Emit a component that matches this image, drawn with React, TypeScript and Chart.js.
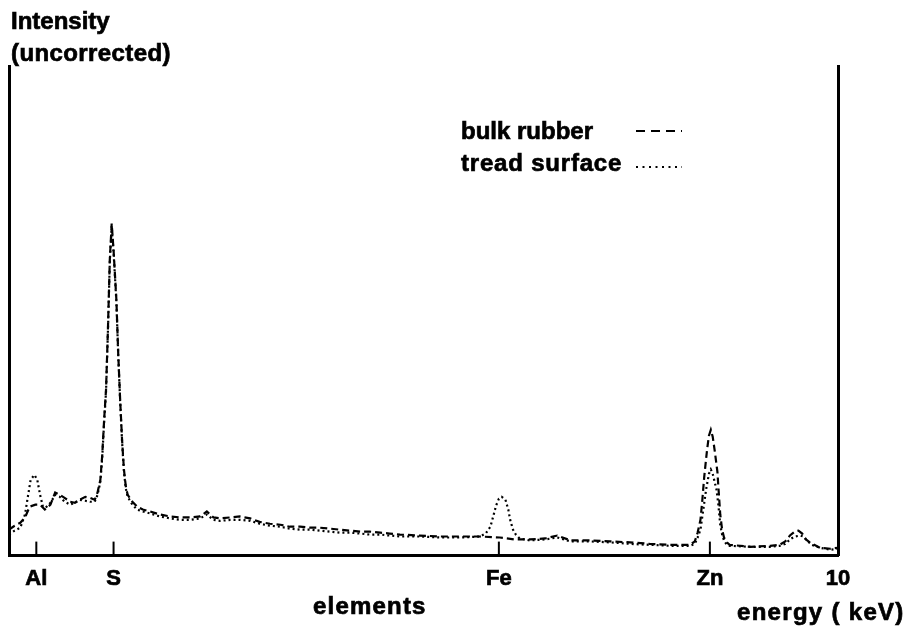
import { useEffect, useRef } from "react";
import { Chart, registerables } from "chart.js";

Chart.register(...registerables);

// X-ray energy (keV) and intensity (arbitrary, uncorrected)
const bulkEnergy = [
  1.2, 1.26, 1.32, 1.37, 1.42, 1.48, 1.53, 1.58, 1.64, 1.69, 1.74, 1.79, 1.85, 1.9, 1.95, 2.01, 2.06, 2.11,
  2.14, 2.17, 2.19, 2.21, 2.23, 2.25, 2.27, 2.29, 2.31, 2.34, 2.36, 2.38, 2.4, 2.42, 2.44, 2.46, 2.51, 2.56,
  2.62, 2.7, 2.8, 2.91, 3.02, 3.12, 3.23, 3.3, 3.37, 3.44, 3.55, 3.65, 3.76, 3.86, 3.97, 4.08, 4.18, 4.29,
  4.4, 4.5, 4.61, 4.71, 4.82, 4.93, 5.03, 5.14, 5.24, 5.35, 5.56, 5.78, 5.99, 6.2, 6.41, 6.57, 6.73, 6.89,
  7.02, 7.16, 7.37, 7.58, 7.79, 8.0, 8.22, 8.43, 8.48, 8.51, 8.54, 8.56, 8.58, 8.61, 8.63, 8.65, 8.67, 8.69,
  8.72, 8.73, 8.75, 8.77, 8.79, 8.82, 8.85, 9.07, 9.28, 9.38, 9.44, 9.49, 9.54, 9.58, 9.62, 9.66, 9.7, 9.81,
  9.92, 10.0,
];
const bulkIntensity = [
  5.3, 6.1, 6.7, 7.8, 10.0, 10.4, 10.4, 9.4, 10.4, 12.9, 12.4, 11.8, 11.0, 10.8, 11.4, 12.0, 11.8, 11.4,
  12.9, 15.5, 20.6, 27.8, 33.9, 46.1, 60.4, 67.8, 62.4, 52.2, 41.0, 31.8, 23.7, 17.6, 14.1, 12.4, 11.0, 10.0,
  9.4, 9.0, 8.4, 8.0, 7.8, 7.8, 8.0, 9.0, 7.8, 7.6, 7.8, 8.0, 7.6, 6.9, 6.5, 6.3, 5.9, 5.9,
  5.7, 5.7, 5.5, 5.3, 5.1, 4.9, 4.9, 4.7, 4.5, 4.3, 4.1, 3.9, 3.9, 3.9, 3.7, 3.3, 3.3, 3.5,
  4.1, 3.1, 3.1, 2.9, 2.7, 2.4, 2.2, 2.2, 2.9, 4.7, 7.3, 11.4, 16.1, 21.6, 24.5, 25.7, 24.3, 21.6,
  17.1, 14.1, 8.4, 5.3, 3.7, 2.7, 2.2, 1.8, 2.0, 2.2, 2.9, 4.1, 4.9, 5.1, 4.5, 3.3, 2.7, 1.6,
  1.4, 1.6,
];
const treadEnergy = [
  1.2, 1.26, 1.32, 1.37, 1.4, 1.43, 1.47, 1.5, 1.53, 1.56, 1.59, 1.64, 1.69, 1.74, 1.79, 1.85, 1.9, 1.95,
  2.01, 2.06, 2.11, 2.14, 2.17, 2.19, 2.21, 2.23, 2.25, 2.27, 2.29, 2.31, 2.34, 2.36, 2.38, 2.4, 2.42, 2.44,
  2.46, 2.51, 2.56, 2.62, 2.7, 2.8, 2.91, 3.02, 3.12, 3.23, 3.3, 3.37, 3.44, 3.55, 3.65, 3.76, 3.86, 3.97,
  4.08, 4.18, 4.29, 4.4, 4.5, 4.61, 4.71, 4.82, 4.93, 5.03, 5.14, 5.24, 5.35, 5.56, 5.78, 5.99, 6.2, 6.26,
  6.31, 6.34, 6.37, 6.4, 6.43, 6.47, 6.5, 6.52, 6.55, 6.58, 6.62, 6.73, 6.89, 7.02, 7.16, 7.37, 7.58, 7.79,
  8.0, 8.22, 8.43, 8.48, 8.51, 8.54, 8.57, 8.6, 8.63, 8.65, 8.67, 8.71, 8.73, 8.75, 8.77, 8.79, 8.82, 8.85,
  9.07, 9.28, 9.38, 9.44, 9.49, 9.54, 9.6, 9.63, 9.67, 9.72, 9.81, 9.92, 10.0,
];
const treadIntensity = [
  4.3, 5.1, 5.7, 8.4, 12.0, 15.5, 16.5, 15.5, 12.4, 10.0, 9.8, 10.8, 12.4, 12.0, 11.0, 10.4, 10.8, 11.4,
  11.2, 11.0, 11.0, 12.4, 15.1, 20.2, 27.3, 33.5, 45.7, 60.0, 67.3, 62.0, 51.8, 40.6, 31.4, 23.3, 17.1, 13.7,
  12.0, 10.4, 9.4, 9.0, 8.6, 8.0, 7.6, 7.3, 7.3, 7.6, 8.4, 7.3, 7.1, 7.3, 7.3, 7.1, 6.5, 6.1,
  5.9, 5.5, 5.3, 5.3, 5.1, 4.9, 4.7, 4.7, 4.5, 4.3, 4.3, 4.1, 3.9, 3.9, 3.7, 3.7, 3.9, 4.5,
  5.9, 8.0, 10.2, 11.6, 12.0, 11.4, 9.4, 7.3, 5.3, 4.3, 3.5, 3.1, 3.3, 3.7, 2.9, 2.9, 2.7, 2.4,
  2.2, 2.0, 2.0, 2.4, 3.7, 5.3, 9.4, 13.5, 16.7, 17.6, 16.7, 13.5, 10.4, 6.3, 4.3, 3.1, 2.2, 2.0,
  1.8, 1.8, 2.0, 2.4, 3.3, 3.9, 4.1, 3.9, 3.1, 2.2, 1.6, 1.2, 1.4,
];

const elementLabels = ["Al", "S", "Fe", "Zn", "10"];
const elementEnergies = [1.49, 2.31, 6.4, 8.64, 10];
const seriesNames = ["bulk rubber", "tread surface"];
const yAxisTitle = ["Intensity", "(uncorrected)"];
const xAxisCaption = "elements";
const xAxisUnit = "energy ( keV)";

const FONT_FAMILY = '"Liberation Sans", Arial, sans-serif';
const BULK_DASH = [7, 4];
const TREAD_DASH = [2, 3];

function drawText(ctx: any, text: string, x: number, y: number, size: number, spacing: number) {
  ctx.font = `bold ${size}px ${FONT_FAMILY}`;
  try {
    ctx.letterSpacing = `${spacing}px`;
  } catch (e) {
    /* ignore */
  }
  ctx.fillText(text, x, y);
  ctx.lineWidth = 0.7;
  ctx.strokeText(text, x, y);
  try {
    ctx.letterSpacing = "0px";
  } catch (e) {
    /* ignore */
  }
}

const annotations = {
  id: "annotations",
  afterDraw(chart: any) {
    const { ctx, chartArea, scales } = chart;
    ctx.save();
    ctx.fillStyle = "#000";
    ctx.strokeStyle = "#000";
    ctx.textAlign = "left";
    ctx.textBaseline = "alphabetic";
    drawText(ctx, yAxisTitle[0], 11, 29, 24, 0);
    drawText(ctx, yAxisTitle[1], 11, 61, 24, 0.4);
    drawText(ctx, seriesNames[0], 461, 139, 24, 0);
    drawText(ctx, seriesNames[1], 461, 171, 24, 0.8);
    drawText(ctx, xAxisCaption, 313, 614, 24, 1.2);
    drawText(ctx, xAxisUnit, 737, 620, 24, 1.3);

    // legend samples
    ctx.lineWidth = 2;
    ctx.setLineDash([9, 6]);
    ctx.beginPath();
    ctx.moveTo(636, 131);
    ctx.lineTo(682, 131);
    ctx.stroke();
    ctx.setLineDash([2, 4.5]);
    ctx.beginPath();
    ctx.moveTo(636, 167);
    ctx.lineTo(682, 167);
    ctx.stroke();

    // inward tick marks at element lines
    ctx.setLineDash([]);
    ctx.lineWidth = 2;
    const x = scales.x;
    elementEnergies.slice(0, 4).forEach((e) => {
      const px = x.getPixelForValue(e);
      ctx.beginPath();
      ctx.moveTo(px, chartArea.bottom);
      ctx.lineTo(px, chartArea.bottom - 14);
      ctx.stroke();
    });
    ctx.restore();
  },
};

export default function App() {
  const canvasRef = useRef<HTMLCanvasElement | null>(null);

  useEffect(() => {
    if (!canvasRef.current) return;
    const chart = new Chart(canvasRef.current, {
      type: "line",
      data: {
        datasets: [
          {
            label: seriesNames[0],
            data: bulkEnergy.map((e, i) => ({ x: e, y: bulkIntensity[i] })),
            borderColor: "#000",
            borderWidth: 2.2,
            borderDash: BULK_DASH,
            pointRadius: 0,
            tension: 0,
            fill: false,
          },
          {
            label: seriesNames[1],
            data: treadEnergy.map((e, i) => ({ x: e, y: treadIntensity[i] })),
            borderColor: "#000",
            borderWidth: 2.2,
            borderDash: TREAD_DASH,
            pointRadius: 0,
            tension: 0,
            fill: false,
          },
        ],
      },
      options: {
        responsive: false,
        animation: false,
        devicePixelRatio: 1,
        layout: { padding: { left: 9, right: 70, top: 66, bottom: 24 } },
        plugins: { legend: { display: false }, title: { display: false }, tooltip: { enabled: false } },
        scales: {
          x: {
            type: "linear",
            min: 1.2,
            max: 10,
            position: "bottom",
            grid: { display: false, drawTicks: false },
            border: { display: true, color: "#000", width: 3 },
            afterBuildTicks: (axis: any) => {
              axis.ticks = elementEnergies.map((v) => ({ value: v }));
            },
            ticks: {
              autoSkip: false,
              maxRotation: 0,
              padding: 10,
              color: "#000",
              textStrokeColor: "#000",
              textStrokeWidth: 0.7,
              font: { family: FONT_FAMILY, weight: "bold", size: 22 },
              callback: (v: any) => {
                const i = elementEnergies.indexOf(Number(v));
                return i >= 0 ? elementLabels[i] : "";
              },
            },
          },
          y: {
            type: "linear",
            min: 0,
            max: 100,
            position: "left",
            grid: { display: false, drawTicks: false },
            border: { display: true, color: "#000", width: 3 },
            ticks: { display: false },
          },
          yRight: {
            type: "linear",
            min: 0,
            max: 100,
            position: "right",
            grid: { display: false, drawTicks: false },
            border: { display: true, color: "#000", width: 3 },
            ticks: { display: false },
          },
        },
      },
      plugins: [annotations],
    });
    return () => chart.destroy();
  }, []);

  return (
    <div style={{ position: "fixed", left: 0, top: 0, width: 908, height: 626, background: "#fff" }}>
      <canvas ref={canvasRef} width={908} height={626} style={{ display: "block" }} />
    </div>
  );
}
